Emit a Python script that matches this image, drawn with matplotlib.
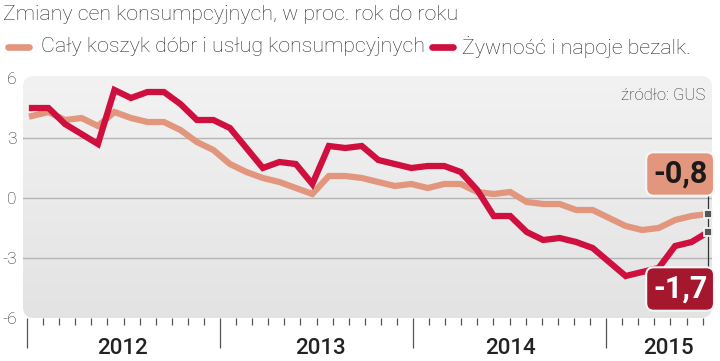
import numpy as np
import matplotlib
matplotlib.use("Agg")
import matplotlib.pyplot as plt
from matplotlib.patches import FancyBboxPatch
from matplotlib.colors import LinearSegmentedColormap
import matplotlib.transforms as mtransforms

# ---------------- data ----------------
title = "Zmiany cen konsumpcyjnych, w proc. rok do roku"
series_names = ["Cały koszyk dóbr i usług konsumpcyjnych", "Żywność i napoje bezalk."]
source = "źródło: GUS"
years = ["2012", "2013", "2014", "2015"]
months_per_year = [12, 12, 12, 6]

cpi_all = [4.1, 4.3, 3.9, 4.0, 3.6, 4.3, 4.0, 3.8, 3.8, 3.4, 2.8, 2.4,
           1.7, 1.3, 1.0, 0.8, 0.5, 0.2, 1.1, 1.1, 1.0, 0.8, 0.6, 0.7,
           0.5, 0.7, 0.7, 0.3, 0.2, 0.3, -0.2, -0.3, -0.3, -0.6, -0.6, -1.0,
           -1.4, -1.6, -1.5, -1.1, -0.9, -0.8]
cpi_food = [4.5, 4.5, 3.7, 3.2, 2.7, 5.4, 5.0, 5.3, 5.3, 4.7, 3.9, 3.9,
            3.5, 2.5, 1.5, 1.8, 1.7, 0.7, 2.6, 2.5, 2.6, 1.9, 1.7, 1.5,
            1.6, 1.6, 1.3, 0.4, -0.9, -0.9, -1.7, -2.1, -2.0, -2.2, -2.5, -3.2,
            -3.9, -3.7, -3.5, -2.4, -2.2, -1.7]
y_ticks = [6, 3, 0, -3, -6]
grid_levels = [3, 0, -3]

# ---------------- style ----------------
C_ALL = "#E2967D"
C_FOOD = "#CF0F3E"
C_BOX_FOOD = "#A5172D"
TXT = "#2b2b2b"
FONT = ["Roboto", "DejaVu Sans"]
plt.rcParams["font.family"] = FONT

W, H = 720, 361
fig = plt.figure(figsize=(W / 100, H / 100), dpi=100)

# background axes in pixel coordinates
bg = fig.add_axes([0, 0, 1, 1], zorder=0)
bg.set_xlim(0, W)
bg.set_ylim(H, 0)
bg.axis("off")

PL, PR, PT, PB = 23, 712, 76, 318
panel = FancyBboxPatch((PL, PT), PR - PL, PB - PT,
                       boxstyle="round,pad=0,rounding_size=11",
                       facecolor="none", edgecolor="none")
bg.add_patch(panel)
cmap = LinearSegmentedColormap.from_list("g", ["#f2f2f2", "#e3e3e3"])
grad = np.linspace(0, 1, 256).reshape(-1, 1)
im = bg.imshow(grad, extent=[PL, PR, PB, PT], cmap=cmap, aspect="auto",
               interpolation="bilinear")
im.set_clip_path(panel)
bg.set_xlim(0, W)
bg.set_ylim(H, 0)

# main axes matching the panel
ax = fig.add_axes([PL / W, (H - PB) / H, (PR - PL) / W, (PB - PT) / H], zorder=1)
ax.patch.set_visible(False)
n = len(cpi_all)
x = np.arange(n)
px_per_month = 16.49
ax.set_xlim((PL - 32) / px_per_month, (PR - 32) / px_per_month)
ax.set_ylim(-6, 6.1)
for s in ax.spines.values():
    s.set_visible(False)

for g in grid_levels:
    ax.axhline(g, color="#b4b4b4", lw=1.0, zorder=1)

ax.plot(x, cpi_all, color=C_ALL, lw=4.5, solid_joinstyle="miter", zorder=3)
ax.plot(x, cpi_food, color=C_FOOD, lw=4.5, solid_joinstyle="miter", zorder=4)

# y tick labels
ax.set_yticks(y_ticks)
ax.set_yticklabels([str(v) for v in y_ticks])
ax.tick_params(axis="y", length=0, pad=4.5, labelsize=12.5, labelcolor=TXT)
for lab in ax.get_yticklabels():
    lab.set_fontweight("light")

# x ticks: months
total_months = sum(months_per_year) + 1
tick_step = 0.9755
tick_start = -0.303
minor_pos = [tick_start + k * tick_step for k in range(total_months)]
starts = np.cumsum([0] + months_per_year[:-1])
major_pos = [tick_start + k * tick_step for k in starts]
ax.set_xticks(major_pos)
ax.set_xticks(minor_pos, minor=True)
ax.tick_params(axis="x", which="major", length=21.6, width=0.9, color="#555555",
               labelbottom=False)
ax.tick_params(axis="x", which="minor", length=5.0, width=0.9, color="#555555",
               labelbottom=False)

# year labels
year_centers = [5.5, 17.5, 29.0, 38.6]
trans = mtransforms.blended_transform_factory(ax.transData, bg.transData)
for yc, yl in zip(year_centers, years):
    ax.text(yc, 348, yl, transform=trans, ha="center", va="center",
            fontsize=16, fontweight="medium", color="#222222", clip_on=False)

# end markers, connector and value boxes
xl = x[-1]
ax.plot([xl, xl], [(198 - 193) / 20, (198 - 270) / 20], color="#333333", lw=0.9,
        zorder=5, clip_on=False)
for yv in (cpi_all[-1], cpi_food[-1]):
    ax.plot(xl, yv, marker="s", ms=5.2, mfc="#555555", mec="#f4f4f4", mew=1.3,
            zorder=6, clip_on=False)

def fmt(v):
    return f"{v:.1f}".replace(".", ",")

ax.annotate(fmt(cpi_all[-1]), (xl, cpi_all[-1]), xytext=(-28, 40),
            textcoords="offset pixels", ha="center", va="center",
            fontsize=22, fontweight="bold", color="#1a1a1a", zorder=7,
            annotation_clip=False,
            bbox=dict(boxstyle="round,pad=0.22,rounding_size=0.25", fc=C_ALL,
                      ec="#f6f6f6", lw=1.5))
ax.annotate(fmt(cpi_food[-1]), (xl, cpi_food[-1]), xytext=(-28, -57),
            textcoords="offset pixels", ha="center", va="center",
            fontsize=22, fontweight="bold", color="white", zorder=7,
            annotation_clip=False,
            bbox=dict(boxstyle="round,pad=0.22,rounding_size=0.25", fc=C_BOX_FOOD,
                      ec="#f6f6f6", lw=1.5))

# title, legend, source
bg.text(3, 14, title, ha="left", va="center", fontsize=15.4, fontweight="light",
        color=TXT)
fig.canvas.draw()
renderer = fig.canvas.get_renderer()

ly = 47
bg.plot([8, 29], [ly, ly], color=C_ALL, lw=4.8, solid_capstyle="round")
t1 = bg.text(41, ly, series_names[0], ha="left", va="center", fontsize=15.4,
             fontweight="light", color=TXT)
bb = t1.get_window_extent(renderer=renderer)
x_end = bb.x1
bg.plot([x_end + 7, x_end + 28], [ly, ly], color=C_FOOD, lw=4.8,
        solid_capstyle="round")
bg.text(x_end + 37, ly, series_names[1], ha="left", va="center", fontsize=15.4,
        fontweight="light", color=TXT)

bg.text(705, 95, source, ha="right", va="center", fontsize=12,
        fontweight="light", color=TXT)

fig.savefig("out.png", dpi=100)
